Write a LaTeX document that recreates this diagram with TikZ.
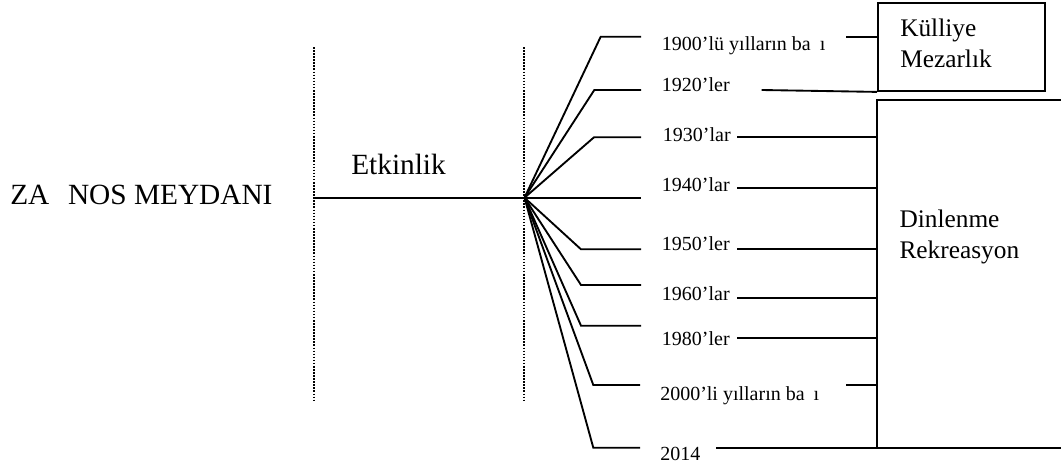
\documentclass[tikz,border=0pt]{standalone}
\usepackage{fontspec}
\setmainfont{Liberation Serif}
\begin{document}
\begin{tikzpicture}[x=0.75pt,y=-0.75pt,
  link/.style={line width=1.4pt, line join=miter},
  sepline/.style={line width=1.4pt, dash pattern=on 1.2pt off 1.1pt},
  yearlbl/.style={font=\fontsize{15}{18}\selectfont, anchor=base west, inner sep=0pt},
  biglbl/.style={font=\fontsize{22}{26}\selectfont, anchor=base west, inner sep=0pt},
  catlbl/.style={font=\fontsize{19}{23.4}\selectfont, align=left, anchor=north west, inner sep=0pt},
  catbox/.style={draw, line width=1.4pt, anchor=north west, inner sep=0pt, minimum width=125.25pt, minimum height=65.8pt}
]
\useasboundingbox (0,0) rectangle (1061,468);

% dotted separators
\coordinate (s1top) at (314,47); \coordinate (s1bot) at (314,400);
\coordinate (s2top) at (524,47); \coordinate (s2bot) at (524,400);
\draw[sepline] (s1top) -- (s1bot);
\draw[sepline] (s2top) -- (s2bot);

% left labels
\node[biglbl] (title) at (10,204.3) {ZA\hspace{14pt}NOS MEYDANI};
\node[biglbl] (etk) at (351,174.3) {Etkinlik};

% main line and hub
\coordinate (start) at (314,197.7);
\coordinate (hub) at (524.5,197.7);
\draw[link] (start) -- (hub);

% category boxes
\node[catbox] (kul) at (877,2.3) {};
\node[catlbl] (kultxt) at (900,18.7) {Külliye\\Mezarlık};

\coordinate (dtr) at (1062,100);
\coordinate (dtl) at (877,100);
\coordinate (dbl) at (877,447.7);
\coordinate (dbr) at (1062,447.7);
\draw[link] (dtr) -- (dtl) -- (dbl) -- (dbr);
\node[catlbl] (dintxt) at (899.3,209.4) {Dinlenme\\Rekreasyon};

% year labels
\node[yearlbl] (y1900) at (661.7,50.7) {1900’lü yılların ba\hspace{0.45em}ı};
\node[yearlbl] (y1920) at (661.7,91.7) {1920’ler};
\node[yearlbl] (y1930) at (662.7,141.7) {1930’lar};
\node[yearlbl] (y1940) at (661.7,191) {1940’lar};
\node[yearlbl] (y1950) at (661.7,250.7) {1950’ler};
\node[yearlbl] (y1960) at (661.7,300) {1960’lar};
\node[yearlbl] (y1980) at (661.7,345) {1980’ler};
\node[yearlbl] (y2000) at (660,400.7) {2000’li yılların ba\hspace{0.45em}ı};
\node[yearlbl] (y2014) at (660,460) {2014};

% branch corners and ends
\coordinate (c1900) at (600.7,36.7);  \coordinate (e1900) at (641,36.7);
\coordinate (c1920) at (594.3,90);    \coordinate (e1920) at (641,90);
\coordinate (c1930) at (594,137.3);   \coordinate (e1930) at (641,137.3);
\coordinate (e1940) at (641,197.7);
\coordinate (c1950) at (581,249.3);   \coordinate (e1950) at (641,249.3);
\coordinate (c1960) at (581,285);     \coordinate (e1960) at (641,285);
\coordinate (c1980) at (581,325.7);   \coordinate (e1980) at (641,325.7);
\coordinate (c2000) at (593.3,385);   \coordinate (e2000) at (640,385);
\coordinate (c2014) at (593.3,447.7); \coordinate (e2014) at (640,447.7);

\draw[link] (hub) -- (c1900) -- (e1900);
\draw[link] (hub) -- (c1920) -- (e1920);
\draw[link] (hub) -- (c1930) -- (e1930);
\draw[link] (hub) -- (e1940);
\draw[link] (hub) -- (c1950) -- (e1950);
\draw[link] (hub) -- (c1960) -- (e1960);
\draw[link] (hub) -- (c1980) -- (e1980);
\draw[link] (hub) -- (c2000) -- (e2000);
\draw[link] (hub) -- (c2014) -- (e2014);

% right-hand connectors to boxes
\coordinate (r1900) at (846,36.7);
\coordinate (r1920) at (761.7,90);
\coordinate (r1930) at (737,137.3);
\coordinate (r1940) at (737,188.3);
\coordinate (r1950) at (737,249.3);
\coordinate (r1960) at (737,297.7);
\coordinate (r1980) at (737,337.7);
\coordinate (r2000) at (846,385);
\coordinate (r2014) at (716,447.7);

\draw[link] (r1900) -- (kul.west |- r1900);
\draw[link] (r1920) -- (kul.south west);
\draw[link] (r1930) -- (dtl |- r1930);
\draw[link] (r1940) -- (dtl |- r1940);
\draw[link] (r1950) -- (dtl |- r1950);
\draw[link] (r1960) -- (dtl |- r1960);
\draw[link] (r1980) -- (dtl |- r1980);
\draw[link] (r2000) -- (dtl |- r2000);
\draw[link] (r2014) -- (dbl);
\end{tikzpicture}
\end{document}
